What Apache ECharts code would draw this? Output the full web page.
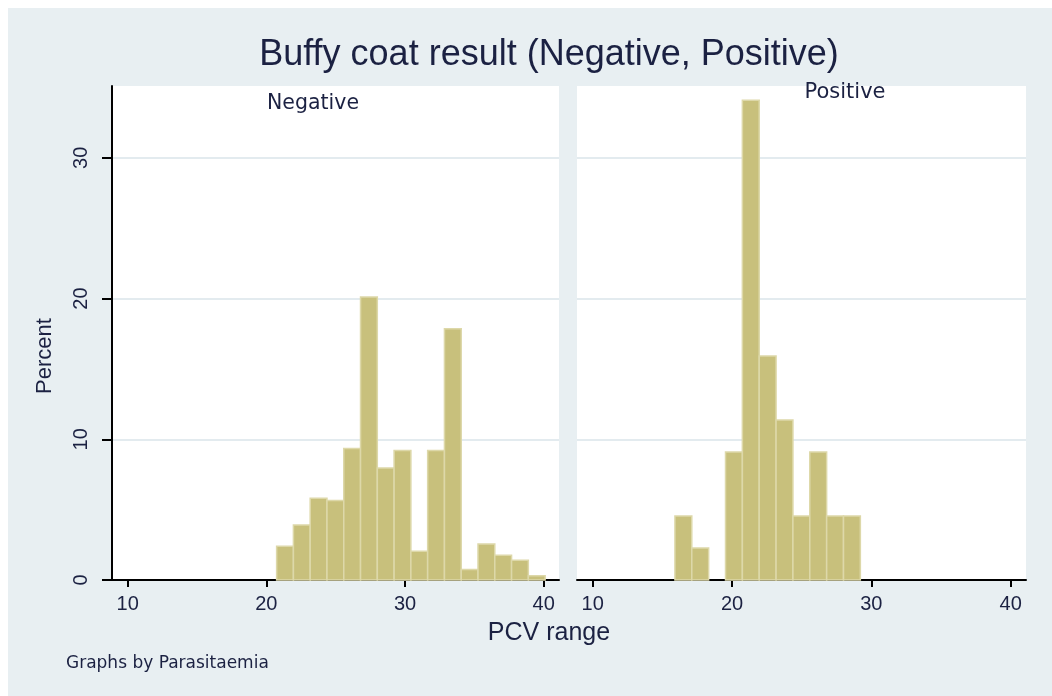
<!DOCTYPE html>
<html>
<head>
<meta charset="utf-8">
<script src="https://cdn.jsdelivr.net/npm/echarts@6/dist/echarts.min.js"></script>
<style>
  html, body { margin: 0; padding: 0; background: #fff; }
  #chart { width: 1052px; height: 696px; }
</style>
</head>
<body>
<div id="chart"></div>
<script>
// bin edges (PCV) and percent per bin
const negEdges = [20.74, 21.95, 23.16, 24.37, 25.58, 26.79, 28.0, 29.21, 30.42, 31.63, 32.84, 34.05, 35.26, 36.47, 37.68, 38.89, 40.1]
const negPct = [2.4, 3.9, 5.8, 5.65, 9.35, 20.1, 7.95, 9.2, 2.05, 9.2, 17.85, 0.75, 2.55, 1.75, 1.4, 0.3]
const posEdges = [15.9, 17.11, 18.32, 19.53, 20.74, 21.95, 23.16, 24.37, 25.58, 26.79, 28.0, 29.21]
const posPct = [4.55, 2.27, 0, 9.09, 34.09, 15.91, 11.36, 4.55, 9.09, 4.55, 4.55]
const xTicks = [10, 20, 30, 40]
const yTicks = [0, 10, 20, 30]
const panels = ['Negative', 'Positive']

const textColor = '#1b2142'
const barFill = '#c8c07c'
const barEdge = '#ddd8a9'

// [start, end, percent] per bin
const toBins = (edges, pct) => pct.map((v, i) => [edges[i], edges[i + 1], v])

const renderBar = (params, api) => {
  if (!api.value(2)) return null
  const p0 = api.coord([api.value(0), api.value(2)])
  const p1 = api.coord([api.value(1), 0])
  return {
    type: 'rect',
    shape: { x: p0[0], y: p0[1], width: p1[0] - p0[0], height: p1[1] - p0[1] },
    style: { fill: barFill, stroke: barEdge, lineWidth: 1.5 }
  }
}

const makeX = (gridIndex) => ({
  type: 'value',
  gridIndex,
  min: 8.87,
  max: 41.1,
  axisLine: { show: true, onZero: false, lineStyle: { color: '#000', width: 2 } },
  axisTick: { show: true, customValues: xTicks, length: 7, lineStyle: { color: '#000', width: 2 } },
  axisLabel: {
    customValues: xTicks, margin: 14,
    fontFamily: 'Liberation Sans', fontSize: 20, color: textColor
  },
  splitLine: { show: false }
})

const makeY = (gridIndex, visible) => ({
  type: 'value',
  gridIndex,
  min: 0,
  max: 35.1,
  interval: 10,
  axisLine: { show: visible, lineStyle: { color: '#000', width: 2 } },
  axisTick: { show: visible, customValues: yTicks, length: 10, lineStyle: { color: '#000', width: 2 } },
  axisLabel: {
    show: visible, customValues: yTicks, rotate: 90, margin: 21,
    fontFamily: 'Liberation Sans', fontSize: 20, color: textColor
  },
  splitLine: { show: true, lineStyle: { color: '#e3ebef', width: 2 } }
})

const chart = echarts.init(document.getElementById('chart'))

chart.setOption({
  animation: false,
  backgroundColor: '#fff',
  graphic: [
    { type: 'rect', z: -10, shape: { x: 8, y: 8, width: 1044, height: 688 }, style: { fill: '#e8eff2' } },
    {
      type: 'text', x: 549, y: 55, z: 10,
      style: { text: 'Buffy coat result (Negative, Positive)', align: 'center', verticalAlign: 'middle', fontFamily: 'Liberation Sans', fontSize: 36, fill: textColor }
    },
    { type: 'text', x: 313, y: 104, z: 10, style: { text: panels[0], align: 'center', verticalAlign: 'middle', fontFamily: 'DejaVu Sans', fontSize: 20.5, fill: textColor } },
    { type: 'text', x: 845, y: 93, z: 10, style: { text: panels[1], align: 'center', verticalAlign: 'middle', fontFamily: 'DejaVu Sans', fontSize: 21, fill: textColor } },
    { type: 'text', x: 45, y: 356, rotation: Math.PI / 2, z: 10, style: { text: 'Percent', align: 'center', verticalAlign: 'middle', fontFamily: 'Liberation Sans', fontSize: 22, fill: textColor } },
    { type: 'text', x: 549, y: 633, z: 10, style: { text: 'PCV range', align: 'center', verticalAlign: 'middle', fontFamily: 'Liberation Sans', fontSize: 25, fill: textColor } },
    { type: 'text', x: 66, y: 664, z: 10, style: { text: 'Graphs by Parasitaemia', align: 'left', verticalAlign: 'middle', fontFamily: 'DejaVu Sans', fontSize: 17, fill: textColor } }
  ],
  grid: [
    { left: 112, top: 86, width: 447, height: 494, show: true, backgroundColor: '#fff', borderWidth: 0 },
    { left: 577, top: 86, width: 449, height: 494, show: true, backgroundColor: '#fff', borderWidth: 0 }
  ],
  xAxis: [makeX(0), makeX(1)],
  yAxis: [makeY(0, true), makeY(1, false)],
  series: [
    { type: 'custom', name: panels[0], xAxisIndex: 0, yAxisIndex: 0, renderItem: renderBar, data: toBins(negEdges, negPct), z: 3 },
    { type: 'custom', name: panels[1], xAxisIndex: 1, yAxisIndex: 1, renderItem: renderBar, data: toBins(posEdges, posPct), z: 3 }
  ]
})
</script>
</body>
</html>
